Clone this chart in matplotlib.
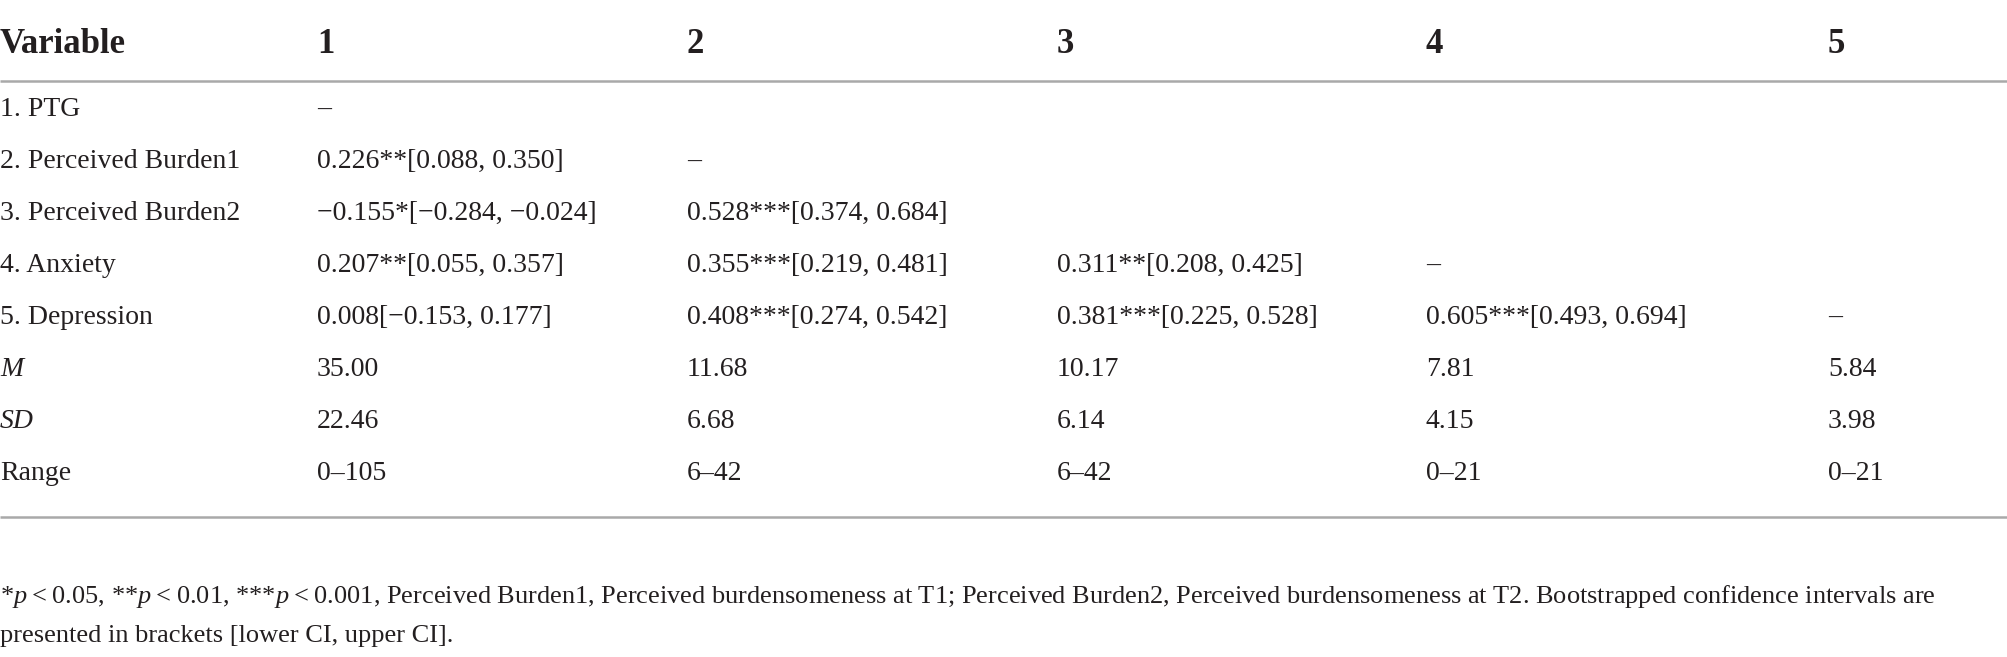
import matplotlib
matplotlib.use('Agg')
import matplotlib.pyplot as plt

# ---------------- data ----------------
col_headers = ["Variable", "1", "2", "3", "4", "5"]
variables = ["1. PTG", "2. Perceived Burden1", "3. Perceived Burden2",
             "4. Anxiety", "5. Depression"]
corr_r = [[], [0.226], [-0.155, 0.528], [0.207, 0.355, 0.311],
          [0.008, 0.408, 0.381, 0.605]]
corr_lo = [[], [0.088], [-0.284, 0.374], [0.055, 0.219, 0.208],
           [-0.153, 0.274, 0.225, 0.493]]
corr_hi = [[], [0.350], [-0.024, 0.684], [0.357, 0.481, 0.425],
           [0.177, 0.542, 0.528, 0.694]]
corr_stars = [[], ["**"], ["*", "***"], ["**", "***", "**"],
              ["", "***", "***", "***"]]
diagonal_dash = [True, True, False, True, True]
stat_labels = ["M", "SD", "Range"]
means = [35.00, 11.68, 10.17, 7.81, 5.84]
sds = [22.46, 6.68, 6.14, 4.15, 3.98]
ranges = ["0–105", "6–42", "6–42", "0–21", "0–21"]
footnote_lines = [
    "*$p$\u2009<\u20090.05, **$p$\u2009<\u20090.01, ***$p$\u2009<\u20090.001, Perceived Burden1, "
    "Perceived burdensomeness at T1; Perceived Burden2, Perceived burdensomeness at T2. "
    "Bootstrapped confidence intervals are",
    "presented in brackets [lower CI, upper CI].",
]

# ---------------- style ----------------
plt.rcParams['font.family'] = ['Liberation Serif', 'DejaVu Serif']
plt.rcParams['mathtext.fontset'] = 'custom'
plt.rcParams['mathtext.rm'] = 'Liberation Serif'
plt.rcParams['mathtext.it'] = 'Liberation Serif:italic'

W, H = 2008, 657
fig = plt.figure(figsize=(W / 100, H / 100), dpi=100)
ax = fig.add_axes([0, 0, 1, 1])
ax.set_xlim(0, W)
ax.set_ylim(H, 0)
ax.axis('off')

txt_color = '#231f20'
line_color = '#a9a9a9'
body_fs = 20
head_fs = 25
foot_fs = 19

col_x = [0, 317, 687, 1057, 1426, 1828]
head_base = 53
row_base0, row_dy = 116, 52
hline_top = 81
hline_bot = 517
foot_base = [603, 642]


def fmt(v):
    return f"{v:.3f}".replace("-", "\u2212")


# header
for x, h in zip(col_x, col_headers):
    ax.text(x, head_base, h, fontsize=head_fs, fontweight='bold', color=txt_color,
            va='baseline', ha='left')

ax.plot([0, W], [hline_top, hline_top], color=line_color, lw=1.8, solid_capstyle='butt')
ax.plot([0, W], [hline_bot, hline_bot], color=line_color, lw=1.8, solid_capstyle='butt')

# correlation rows
for i, name in enumerate(variables):
    y = row_base0 + i * row_dy
    ax.text(col_x[0], y, name, fontsize=body_fs, color=txt_color, va='baseline', ha='left')
    for j in range(len(corr_r[i])):
        s = f"{fmt(corr_r[i][j])}{corr_stars[i][j]}[{fmt(corr_lo[i][j])}, {fmt(corr_hi[i][j])}]"
        ax.text(col_x[j + 1], y, s, fontsize=body_fs, color=txt_color, va='baseline', ha='left')
    if diagonal_dash[i]:
        ax.text(col_x[i + 1], y, "\u2013", fontsize=body_fs, color=txt_color,
                va='baseline', ha='left')

# descriptive rows
stat_values = [[f"{v:.2f}" for v in means], [f"{v:.2f}" for v in sds], ranges]
for k, (lab, vals) in enumerate(zip(stat_labels, stat_values)):
    y = row_base0 + (len(variables) + k) * row_dy
    style = 'italic' if lab in ("M", "SD") else 'normal'
    ax.text(col_x[0], y, lab, fontsize=body_fs, color=txt_color, va='baseline', ha='left',
            fontstyle=style)
    for j, v in enumerate(vals):
        ax.text(col_x[j + 1], y, v, fontsize=body_fs, color=txt_color, va='baseline', ha='left')

# footnote
for y, line in zip(foot_base, footnote_lines):
    ax.text(0, y, line, fontsize=foot_fs, color=txt_color, va='baseline', ha='left')

fig.savefig('out.png', dpi=100, facecolor='white')
